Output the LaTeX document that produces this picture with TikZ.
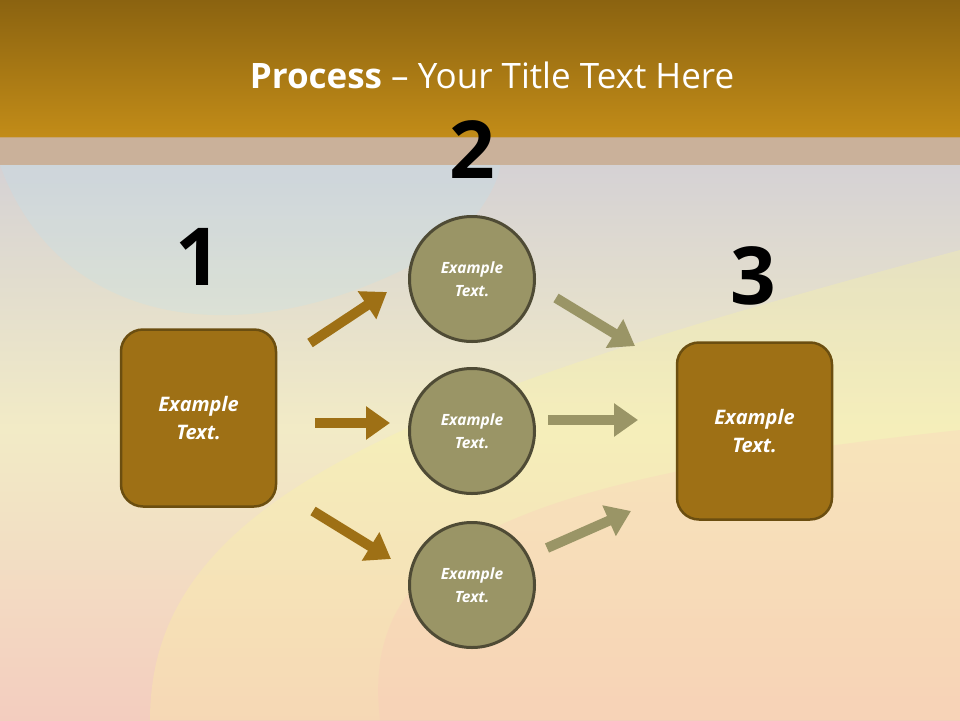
\documentclass[tikz,border=0pt]{standalone}
\usepackage{fontspec}
\setmainfont{Open Sans}
\usetikzlibrary{arrows.meta}
\definecolor{gold}{HTML}{9E7015}
\definecolor{goldb}{HTML}{6B4E10}
\definecolor{olive}{HTML}{9A9566}
\definecolor{oliveb}{HTML}{4F4B35}
\definecolor{hdtop}{HTML}{8B6310}
\definecolor{hdbot}{HTML}{C28C18}
\definecolor{band}{HTML}{C8AA8C}
\definecolor{bgtop}{HTML}{D2CFD6}
\definecolor{bgmid}{HTML}{F2EBC6}
\definecolor{bgbot}{HTML}{F3CDBF}
\tikzset{
 box/.style={draw=goldb,line width=2.5pt,fill=gold,rounded corners=22pt,minimum width=155pt,minimum height=177pt,text=white,font=\fontsize{20}{28}\selectfont\bfseries\itshape,align=center},
 circ/.style={circle,draw=oliveb,line width=3pt,fill=olive,minimum size=125pt,text=white,font=\fontsize{15.5}{23}\selectfont\bfseries\itshape,align=center},
 num/.style={font=\fontsize{80}{80}\selectfont\bfseries,text=black},
 garr/.style={draw=gold,line width=10pt,-{Triangle[length=24pt,width=32pt]}},
 oarr/.style={draw=olive,line width=10pt,-{Triangle[length=24pt,width=32pt]}}
}
\begin{document}
\begin{tikzpicture}[x=1pt,y=-1pt]
\useasboundingbox (0,0) rectangle (960,720);
\shade[top color=bgtop, bottom color=bgbot, middle color=bgmid] (0,137) rectangle (960,720);
\fill[cyan!30,opacity=0.2] (0,165) .. controls (60,330) and (250,360) .. (440,250) .. controls (480,220) and (500,180) .. (500,165) -- cycle;
\fill[yellow!40,opacity=0.25] (150,720) .. controls (150,500) and (400,400) .. (960,250) -- (960,720) -- cycle;
\fill[red!25,opacity=0.2] (380,720) .. controls (360,550) and (500,480) .. (960,430) -- (960,720) -- cycle;
\shade[top color=hdtop, bottom color=hdbot] (0,0) rectangle (960,137);
\fill[band,opacity=0.8] (0,137) rectangle (960,165);
\node[text=white,font=\fontsize{35}{40}\selectfont] (title) at (492,75) {\textbf{Process} – Your Title Text Here};
\node[num] (n2) at (472,150) {2};
\node[num] (n1) at (198,257) {1};
\node[num] (n3) at (753,276) {3};
\node[box] (b1) at (198.5,418) {Example\\Text.};
\node[box] (b3) at (754.5,431) {Example\\Text.};
\node[circ] (c1) at (472,279) {Example\\Text.};
\node[circ] (c2) at (472,431) {Example\\Text.};
\node[circ] (c3) at (472,585) {Example\\Text.};
\coordinate (a1s) at (310,343); \coordinate (a1e) at (387,292);
\coordinate (a2s) at (315,423); \coordinate (a2e) at (390,423);
\coordinate (a3s) at (313,511); \coordinate (a3e) at (391,559);
\coordinate (a4s) at (556,298); \coordinate (a4e) at (635,346);
\coordinate (a5s) at (548,420); \coordinate (a5e) at (638,420);
\coordinate (a6s) at (547,548); \coordinate (a6e) at (631,511);
\draw[garr] (a1s) -- (a1e);
\draw[garr] (a2s) -- (a2e);
\draw[garr] (a3s) -- (a3e);
\draw[oarr] (a4s) -- (a4e);
\draw[oarr] (a5s) -- (a5e);
\draw[oarr] (a6s) -- (a6e);
\end{tikzpicture}
\end{document}
